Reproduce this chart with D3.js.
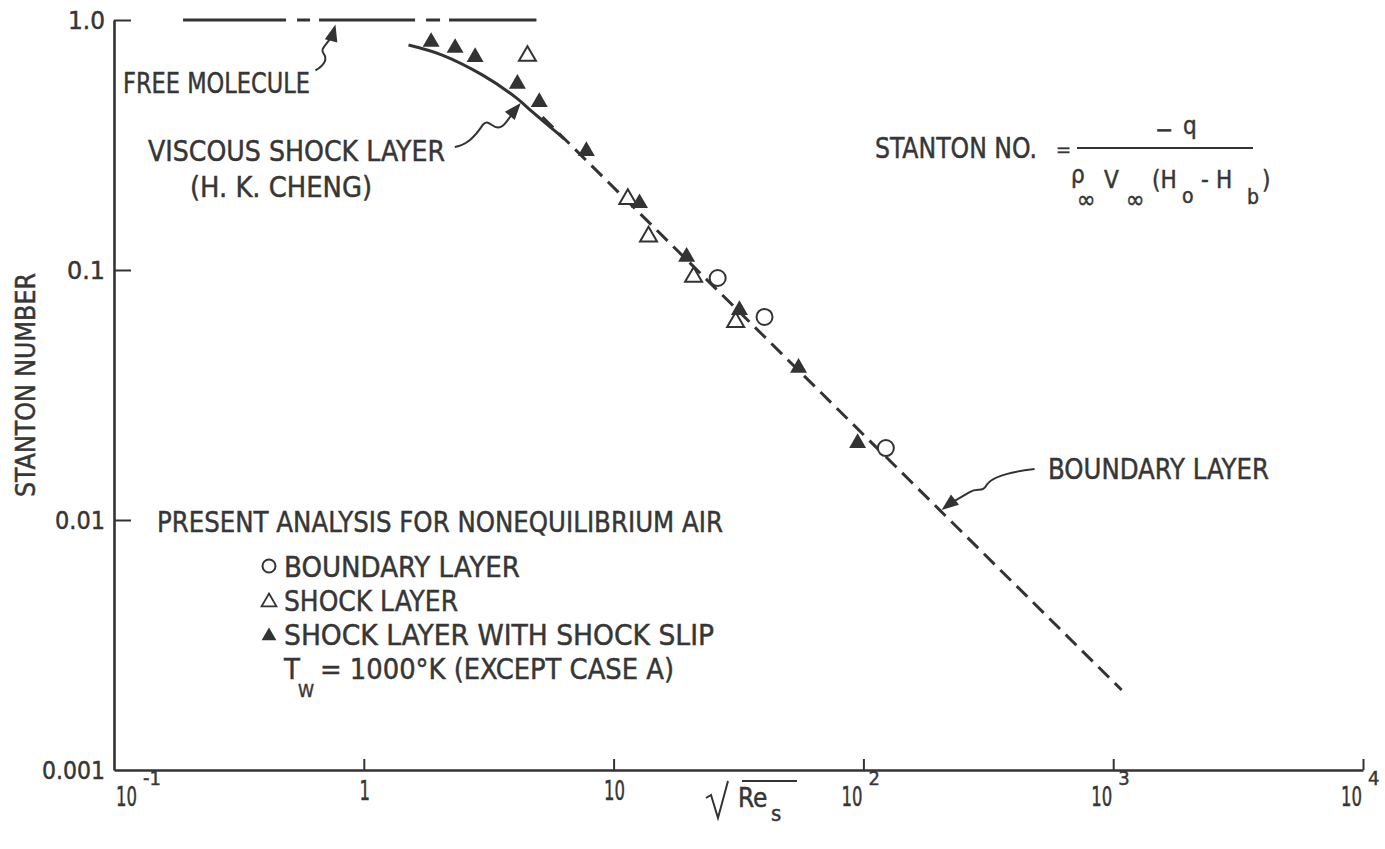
<!DOCTYPE html>
<html><head><meta charset="utf-8">
<script src="https://cdn.jsdelivr.net/npm/d3@7"></script>
<style>
body{margin:0;background:#fff;}
svg text{font-family:"Liberation Sans Narrow","DejaVu Sans Condensed","Arial Narrow",sans-serif;fill:#363636;stroke:#363636;stroke-width:0.45px;}
</style></head><body>
<svg id="chart" width="1385" height="849"></svg>
<script>
// Stanton number vs sqrt(Re_s)
const shockSlipX = [1.86, 2.32, 2.79, 4.12, 5.04, 7.78, 12.7, 19.6, 31.9, 55.0, 94.8];
const shockSlipY = [0.817, 0.773, 0.711, 0.555, 0.470, 0.299, 0.185, 0.113, 0.0692, 0.0406, 0.0203];
const shockLayerX = [4.52, 11.4, 13.8, 20.9, 30.8];
const shockLayerY = [0.718, 0.192, 0.136, 0.0938, 0.0619];
const boundaryX = [26.1, 40.2, 123];
const boundaryY = [0.0929, 0.0649, 0.0194];
// theory curves
const blLineX = [5.19, 211, 1081];
const blLineY = [0.409, 0.0105, 0.00209];
const vslX = [1.51, 2.06, 2.98, 4.08, 4.73, 5.90, 6.35];
const vslY = [0.794, 0.724, 0.603, 0.488, 0.429, 0.356, 0.334];
const fmX = [0.189, 4.91];
const fmY = [1.0, 1.0];
// axes
const xTicks = [0.1, 1, 10, 100, 1000, 10000];
const xTickBase = ["10", "1", "10", "10", "10", "10"];
const xTickExp = ["-1", "", "", "2", "3", "4"];
const yTicks = [1, 0.1, 0.01, 0.001];
const yTickLabels = ["1.0", "0.1", "0.01", "0.001"];

const ink = "#333";
const svg = d3.select("#chart");
const x = d3.scaleLog().domain([0.1, 10000]).range([114, 1363]);
const y = d3.scaleLog().domain([0.001, 1]).range([770, 20]);

function label(str, px, py, o = {}) {
  const t = svg.append("text").attr("x", px).attr("y", py).text(str)
    .attr("font-size", o.fs || 29);
  if (o.len) t.attr("textLength", o.len).attr("lengthAdjust", "spacingAndGlyphs");
  if (o.anchor) t.attr("text-anchor", o.anchor);
  return t;
}

// axes
svg.append("g").attr("transform", `translate(${x(0.1)},0)`)
  .call(d3.axisLeft(y).tickValues([1, 0.1, 0.01]).tickSizeInner(-17).tickSizeOuter(0).tickFormat(""));
svg.append("g").attr("transform", `translate(0,${y(0.001)})`)
  .call(d3.axisBottom(x).tickValues([1, 10, 100, 1000, 10000]).tickSizeInner(-11).tickSizeOuter(0).tickFormat(""));
svg.selectAll(".domain").attr("stroke", ink).attr("stroke-width", 2.6);
svg.selectAll(".tick line").attr("stroke", ink).attr("stroke-width", 2);

// y tick labels
const yLens = [37, 38, 50, 63];
yTicks.forEach((v, i) => label(yTickLabels[i], 105, y(v) + 9, {fs: 25, anchor: "end", len: yLens[i]}));

// x tick labels: powers of ten with raised exponents
xTicks.forEach((v, i) => {
  const px = x(v);
  if (xTickExp[i] === "") {
    label(xTickBase[i], px + 1, 800, {fs: 26, anchor: "middle", len: xTickBase[i].length * 10.5});
    return;
  }
  const bx = i === 0 ? px + 2 : px - 22;
  label(xTickBase[i], bx, 806, {fs: 26, len: 21});
  label(xTickExp[i], bx + 27, 785, {fs: 20});
});

// axis titles
svg.append("text").attr("transform", "translate(35,385) rotate(-90)")
  .attr("text-anchor", "middle").attr("font-size", 26)
  .attr("textLength", 224).attr("lengthAdjust", "spacingAndGlyphs").text("STANTON NUMBER");
svg.append("path").attr("d", "M706,798 L711,795 L718,818 L728,781 M742,781 L797,781")
  .attr("fill", "none").attr("stroke", ink).attr("stroke-width", 2);
const reT = svg.append("text").attr("x", 738).attr("y", 807).attr("font-size", 26);
reT.append("tspan").text("Re");
reT.append("tspan").attr("x", 771).attr("y", 821).attr("font-size", 22).text("s");

// free molecule limit
const line = d3.line().x(d => x(d[0])).y(d => y(d[1]));
svg.append("path").datum(fmX.map((v, i) => [v, fmY[i]]))
  .attr("d", line).attr("fill", "none").attr("stroke", ink).attr("stroke-width", 3)
  .attr("stroke-dasharray", "103,11,13,9,96,11,14,9,90");

// viscous shock layer (Cheng)
svg.append("path").datum(vslX.map((v, i) => [v, vslY[i]]))
  .attr("d", d3.line().x(d => x(d[0])).y(d => y(d[1])).curve(d3.curveCatmullRom))
  .attr("fill", "none").attr("stroke", ink).attr("stroke-width", 3);

// boundary layer theory
svg.append("path").datum(blLineX.map((v, i) => [v, blLineY[i]]))
  .attr("d", line).attr("fill", "none")
  .attr("stroke", ink).attr("stroke-width", 3).attr("stroke-dasharray", "15,8");

// data points
const tri = d3.symbol(d3.symbolTriangle, 125)();
const triSmall = d3.symbol(d3.symbolTriangle, 95)();
svg.append("g").selectAll("path").data(shockLayerX.map((v, i) => [v, shockLayerY[i]])).join("path")
  .attr("d", tri).attr("transform", d => `translate(${x(d[0])},${y(d[1])})`)
  .attr("fill", "#fff").attr("stroke", ink).attr("stroke-width", 2);
svg.append("g").selectAll("circle").data(boundaryX.map((v, i) => [v, boundaryY[i]])).join("circle")
  .attr("cx", d => x(d[0])).attr("cy", d => y(d[1])).attr("r", 8)
  .attr("fill", "#fff").attr("stroke", ink).attr("stroke-width", 2);
svg.append("g").selectAll("path").data(shockSlipX.map((v, i) => [v, shockSlipY[i]])).join("path")
  .attr("d", tri).attr("transform", d => `translate(${x(d[0])},${y(d[1])})`)
  .attr("fill", ink);

// leader arrows
function leader(tipX, tipY, tail, angleDeg) {
  const px = x(tipX), py = y(tipY);
  const g = svg.append("g").attr("transform", `translate(${px},${py})`);
  g.append("path").attr("d", tail).attr("fill", "none").attr("stroke", ink).attr("stroke-width", 2);
  g.append("path").attr("d", "M0,0 L-6.5,17 L6.5,17 Z").attr("fill", ink)
    .attr("transform", `rotate(${angleDeg})`);
}
leader(0.77, 0.96, "M-20,46 C-10,40 -8,34 -12,29 C-16,24 -8,20 -4,12", 15);
leader(4.25, 0.466, "M-66,44 C-54,42 -46,34 -38,22 C-32,14 -28,28 -20,24 C-15,22 -14,17 -7,10", 40);
leader(205.6, 0.01096, "M93,-41 C66,-38 50,-33 45,-25 C41,-17 36,-23 28,-18 L11,-8", -128);

// annotation text
label("FREE MOLECULE", 123, 93, {len: 187});
label("VISCOUS SHOCK LAYER", 148, 161, {len: 297});
label("(H. K. CHENG)", 190, 197, {len: 182});
label("BOUNDARY LAYER", 1048, 479, {len: 221});

// Stanton number definition
label("STANTON NO.", 875, 158, {len: 162});
label("=", 1056, 156, {fs: 20});
svg.append("line").attr("x1", 1077).attr("x2", 1253).attr("y1", 148).attr("y2", 148)
  .attr("stroke", ink).attr("stroke-width", 2);
const num = svg.append("text").attr("font-size", 24);
num.append("tspan").attr("x", 1155).attr("y", 138).text("\u2212");
num.append("tspan").attr("x", 1183).attr("y", 134).text("q");
const den = svg.append("text").attr("font-size", 24);
const denParts = [
  ["\u03c1", 1071, 183, 24], ["\u221e", 1077, 208, 25], ["V", 1104, 188, 24], ["\u221e", 1126, 208, 25],
  ["(H", 1152, 188, 24], ["o", 1182, 203, 21], ["-", 1201, 188, 24], ["H", 1216, 188, 24],
  ["b", 1247, 204, 21], [")", 1262, 188, 24]
];
denParts.forEach(([s, px, py, fs]) => den.append("tspan").attr("x", px).attr("y", py).attr("font-size", fs).text(s));

// legend
label("PRESENT ANALYSIS FOR NONEQUILIBRIUM AIR", 157, 532, {len: 566});
svg.append("circle").attr("cx", 269).attr("cy", 566).attr("r", 6.5)
  .attr("fill", "#fff").attr("stroke", ink).attr("stroke-width", 2);
label("BOUNDARY LAYER", 284, 577, {len: 236});
svg.append("path").attr("d", triSmall).attr("transform", "translate(269,602)")
  .attr("fill", "#fff").attr("stroke", ink).attr("stroke-width", 1.8);
label("SHOCK LAYER", 284, 611, {len: 174});
svg.append("path").attr("d", triSmall).attr("transform", "translate(269,636)").attr("fill", ink);
label("SHOCK LAYER WITH SHOCK SLIP", 284, 645, {len: 430});
const tw = svg.append("text").attr("font-size", 29);
tw.append("tspan").attr("x", 284).attr("y", 679).text("T");
tw.append("tspan").attr("x", 298).attr("y", 697).attr("font-size", 18).text("W");
label("= 1000\u00b0K (EXCEPT CASE A)", 320, 679, {len: 354});
</script>
</body></html>
